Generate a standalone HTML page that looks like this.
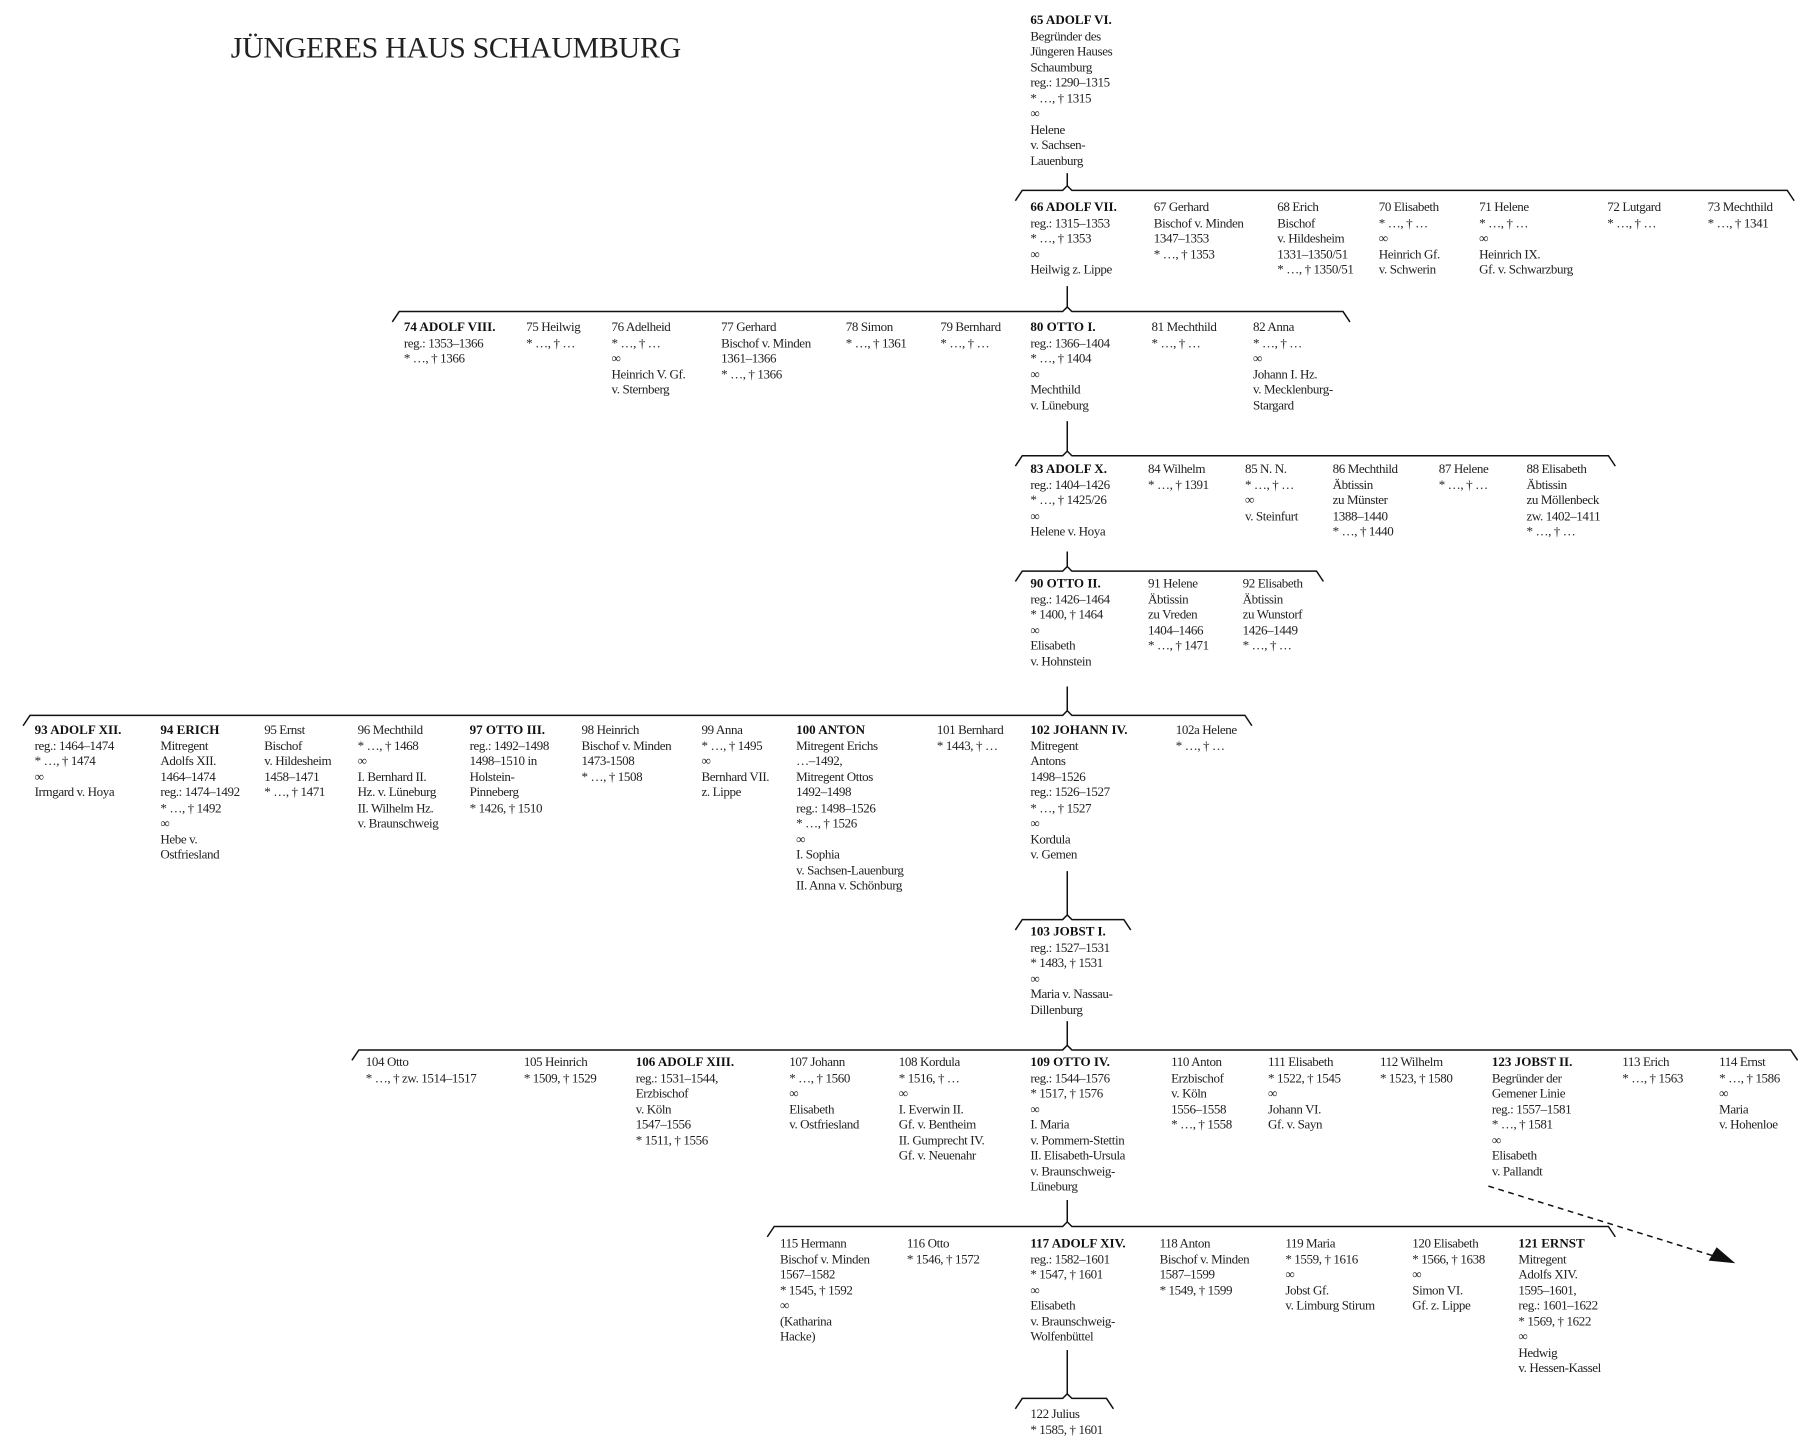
<!DOCTYPE html>
<html><head><meta charset="utf-8"><style>
html,body{margin:0;padding:0;background:#fff;}
body{width:1800px;height:1441px;overflow:hidden;position:relative;}
#c{position:absolute;left:0;top:0;width:1560px;height:1249px;transform:scale(1.1538);transform-origin:0 0;}
.p{position:absolute;font-family:"Liberation Serif",serif;font-size:11.3px;line-height:13.5px;color:#222;white-space:nowrap;letter-spacing:-0.35px;}
.p b{font-weight:bold;color:#111;letter-spacing:0;}
.t{position:absolute;left:200px;top:27px;font-family:"Liberation Serif",serif;font-size:26px;color:#222;letter-spacing:-0.3px;}
svg{position:absolute;left:0;top:0;}
</style></head><body><div id="c">
<svg width="1560" height="1249" viewBox="0 0 1560 1249" fill="none" stroke="#111" stroke-width="1.3">
<path d="M925 150 V161 M880 174 L886 165 L921 165 L925 161 L929 165 L1549 165 L1555 174"/>
<path d="M925 248 V266 M340 279 L346 270 L921 270 L925 266 L929 270 L1164 270 L1170 279"/>
<path d="M925 365 V391 M880 404 L886 395 L921 395 L925 391 L929 395 L1394 395 L1400 404"/>
<path d="M925 478 V491 M880 504 L886 495 L921 495 L925 491 L929 495 L1141 495 L1147 504"/>
<path d="M925 595 V616 M20 629 L26 620 L921 620 L925 616 L929 620 L1079 620 L1085 629"/>
<path d="M925 755 V793 M880 806 L886 797 L921 797 L925 793 L929 797 L974 797 L980 806"/>
<path d="M925 885 V906 M305 919 L311 910 L921 910 L925 906 L929 910 L1552 910 L1558 919"/>
<path d="M925 1040 V1059 M665 1072 L671 1063 L921 1063 L925 1059 L929 1063 L1394 1063 L1400 1072"/>
<path d="M925 1170 V1208 M880 1221 L886 1212 L921 1212 L925 1208 L929 1212 L959 1212 L965 1221"/>
<path d="M1290 1028 L1490 1090" stroke-dasharray="5 4"/>
<path d="M1502 1094 L1482 1092 L1488 1082 Z" fill="#111"/>
</svg>
<div class="t">JÜNGERES HAUS SCHAUMBURG</div>

<div class="p" style="left:893px;top:12px"><b>65 ADOLF VI.</b><br>Begründer des<br>Jüngeren Hauses<br>Schaumburg<br>reg.: 1290–1315<br>* …, † 1315<br>∞<br>Helene<br>v. Sachsen-<br>Lauenburg</div>

<div class="p" style="left:893px;top:174px"><b>66 ADOLF VII.</b><br>reg.: 1315–1353<br>* …, † 1353<br>∞<br>Heilwig z. Lippe</div>
<div class="p" style="left:1000px;top:174px">67 Gerhard<br>Bischof v. Minden<br>1347–1353<br>* …, † 1353</div>
<div class="p" style="left:1107px;top:174px">68 Erich<br>Bischof<br>v. Hildesheim<br>1331–1350/51<br>* …, † 1350/51</div>
<div class="p" style="left:1195px;top:174px">70 Elisabeth<br>* …, † …<br>∞<br>Heinrich Gf.<br>v. Schwerin</div>
<div class="p" style="left:1282px;top:174px">71 Helene<br>* …, † …<br>∞<br>Heinrich IX.<br>Gf. v. Schwarzburg</div>
<div class="p" style="left:1393px;top:174px">72 Lutgard<br>* …, † …</div>
<div class="p" style="left:1480px;top:174px">73 Mechthild<br>* …, † 1341</div>

<div class="p" style="left:350px;top:278px"><b>74 ADOLF VIII.</b><br>reg.: 1353–1366<br>* …, † 1366</div>
<div class="p" style="left:456px;top:278px">75 Heilwig<br>* …, † …</div>
<div class="p" style="left:530px;top:278px">76 Adelheid<br>* …, † …<br>∞<br>Heinrich V. Gf.<br>v. Sternberg</div>
<div class="p" style="left:625px;top:278px">77 Gerhard<br>Bischof v. Minden<br>1361–1366<br>* …, † 1366</div>
<div class="p" style="left:733px;top:278px">78 Simon<br>* …, † 1361</div>
<div class="p" style="left:815px;top:278px">79 Bernhard<br>* …, † …</div>
<div class="p" style="left:893px;top:278px"><b>80 OTTO I.</b><br>reg.: 1366–1404<br>* …, † 1404<br>∞<br>Mechthild<br>v. Lüneburg</div>
<div class="p" style="left:998px;top:278px">81 Mechthild<br>* …, † …</div>
<div class="p" style="left:1086px;top:278px">82 Anna<br>* …, † …<br>∞<br>Johann I. Hz.<br>v. Mecklenburg-<br>Stargard</div>

<div class="p" style="left:893px;top:401px"><b>83 ADOLF X.</b><br>reg.: 1404–1426<br>* …, † 1425/26<br>∞<br>Helene v. Hoya</div>
<div class="p" style="left:995px;top:401px">84 Wilhelm<br>* …, † 1391</div>
<div class="p" style="left:1079px;top:401px">85 N. N.<br>* …, † …<br>∞<br>v. Steinfurt</div>
<div class="p" style="left:1155px;top:401px">86 Mechthild<br>Äbtissin<br>zu Münster<br>1388–1440<br>* …, † 1440</div>
<div class="p" style="left:1247px;top:401px">87 Helene<br>* …, † …</div>
<div class="p" style="left:1323px;top:401px">88 Elisabeth<br>Äbtissin<br>zu Möllenbeck<br>zw. 1402–1411<br>* …, † …</div>

<div class="p" style="left:893px;top:500px"><b>90 OTTO II.</b><br>reg.: 1426–1464<br>* 1400, † 1464<br>∞<br>Elisabeth<br>v. Hohnstein</div>
<div class="p" style="left:995px;top:500px">91 Helene<br>Äbtissin<br>zu Vreden<br>1404–1466<br>* …, † 1471</div>
<div class="p" style="left:1077px;top:500px">92 Elisabeth<br>Äbtissin<br>zu Wunstorf<br>1426–1449<br>* …, † …</div>

<div class="p" style="left:30px;top:627px"><b>93 ADOLF XII.</b><br>reg.: 1464–1474<br>* …, † 1474<br>∞<br>Irmgard v. Hoya</div>
<div class="p" style="left:139px;top:627px"><b>94 ERICH</b><br>Mitregent<br>Adolfs XII.<br>1464–1474<br>reg.: 1474–1492<br>* …, † 1492<br>∞<br>Hebe v.<br>Ostfriesland</div>
<div class="p" style="left:229px;top:627px">95 Ernst<br>Bischof<br>v. Hildesheim<br>1458–1471<br>* …, † 1471</div>
<div class="p" style="left:310px;top:627px">96 Mechthild<br>* …, † 1468<br>∞<br>I. Bernhard II.<br>Hz. v. Lüneburg<br>II. Wilhelm Hz.<br>v. Braunschweig</div>
<div class="p" style="left:407px;top:627px"><b>97 OTTO III.</b><br>reg.: 1492–1498<br>1498–1510 in<br>Holstein-<br>Pinneberg<br>* 1426, † 1510</div>
<div class="p" style="left:504px;top:627px">98 Heinrich<br>Bischof v. Minden<br>1473-1508<br>* …, † 1508</div>
<div class="p" style="left:608px;top:627px">99 Anna<br>* …, † 1495<br>∞<br>Bernhard VII.<br>z. Lippe</div>
<div class="p" style="left:690px;top:627px"><b>100 ANTON</b><br>Mitregent Erichs<br>…–1492,<br>Mitregent Ottos<br>1492–1498<br>reg.: 1498–1526<br>* …, † 1526<br>∞<br>I. Sophia<br>v. Sachsen-Lauenburg<br>II. Anna v. Schönburg</div>
<div class="p" style="left:812px;top:627px">101 Bernhard<br>* 1443, † …</div>
<div class="p" style="left:893px;top:627px"><b>102 JOHANN IV.</b><br>Mitregent<br>Antons<br>1498–1526<br>reg.: 1526–1527<br>* …, † 1527<br>∞<br>Kordula<br>v. Gemen</div>
<div class="p" style="left:1019px;top:627px">102a Helene<br>* …, † …</div>

<div class="p" style="left:893px;top:802px"><b>103 JOBST I.</b><br>reg.: 1527–1531<br>* 1483, † 1531<br>∞<br>Maria v. Nassau-<br>Dillenburg</div>

<div class="p" style="left:317px;top:915px">104 Otto<br>* …, † zw. 1514–1517</div>
<div class="p" style="left:454px;top:915px">105 Heinrich<br>* 1509, † 1529</div>
<div class="p" style="left:551px;top:915px"><b>106 ADOLF XIII.</b><br>reg.: 1531–1544,<br>Erzbischof<br>v. Köln<br>1547–1556<br>* 1511, † 1556</div>
<div class="p" style="left:684px;top:915px">107 Johann<br>* …, † 1560<br>∞<br>Elisabeth<br>v. Ostfriesland</div>
<div class="p" style="left:779px;top:915px">108 Kordula<br>* 1516, † …<br>∞<br>I. Everwin II.<br>Gf. v. Bentheim<br>II. Gumprecht IV.<br>Gf. v. Neuenahr</div>
<div class="p" style="left:893px;top:915px"><b>109 OTTO IV.</b><br>reg.: 1544–1576<br>* 1517, † 1576<br>∞<br>I. Maria<br>v. Pommern-Stettin<br>II. Elisabeth-Ursula<br>v. Braunschweig-<br>Lüneburg</div>
<div class="p" style="left:1015px;top:915px">110 Anton<br>Erzbischof<br>v. Köln<br>1556–1558<br>* …, † 1558</div>
<div class="p" style="left:1099px;top:915px">111 Elisabeth<br>* 1522, † 1545<br>∞<br>Johann VI.<br>Gf. v. Sayn</div>
<div class="p" style="left:1196px;top:915px">112 Wilhelm<br>* 1523, † 1580</div>
<div class="p" style="left:1293px;top:915px"><b>123 JOBST II.</b><br>Begründer der<br>Gemener Linie<br>reg.: 1557–1581<br>* …, † 1581<br>∞<br>Elisabeth<br>v. Pallandt</div>
<div class="p" style="left:1406px;top:915px">113 Erich<br>* …, † 1563</div>
<div class="p" style="left:1490px;top:915px">114 Ernst<br>* …, † 1586<br>∞<br>Maria<br>v. Hohenloe</div>

<div class="p" style="left:676px;top:1072px">115 Hermann<br>Bischof v. Minden<br>1567–1582<br>* 1545, † 1592<br>∞<br>(Katharina<br>Hacke)</div>
<div class="p" style="left:786px;top:1072px">116 Otto<br>* 1546, † 1572</div>
<div class="p" style="left:893px;top:1072px"><b>117 ADOLF XIV.</b><br>reg.: 1582–1601<br>* 1547, † 1601<br>∞<br>Elisabeth<br>v. Braunschweig-<br>Wolfenbüttel</div>
<div class="p" style="left:1005px;top:1072px">118 Anton<br>Bischof v. Minden<br>1587–1599<br>* 1549, † 1599</div>
<div class="p" style="left:1114px;top:1072px">119 Maria<br>* 1559, † 1616<br>∞<br>Jobst Gf.<br>v. Limburg Stirum</div>
<div class="p" style="left:1224px;top:1072px">120 Elisabeth<br>* 1566, † 1638<br>∞<br>Simon VI.<br>Gf. z. Lippe</div>
<div class="p" style="left:1316px;top:1072px"><b>121 ERNST</b><br>Mitregent<br>Adolfs XIV.<br>1595–1601,<br>reg.: 1601–1622<br>* 1569, † 1622<br>∞<br>Hedwig<br>v. Hessen-Kassel</div>

<div class="p" style="left:893px;top:1220px">122 Julius<br>* 1585, † 1601</div>
</div></body></html>
